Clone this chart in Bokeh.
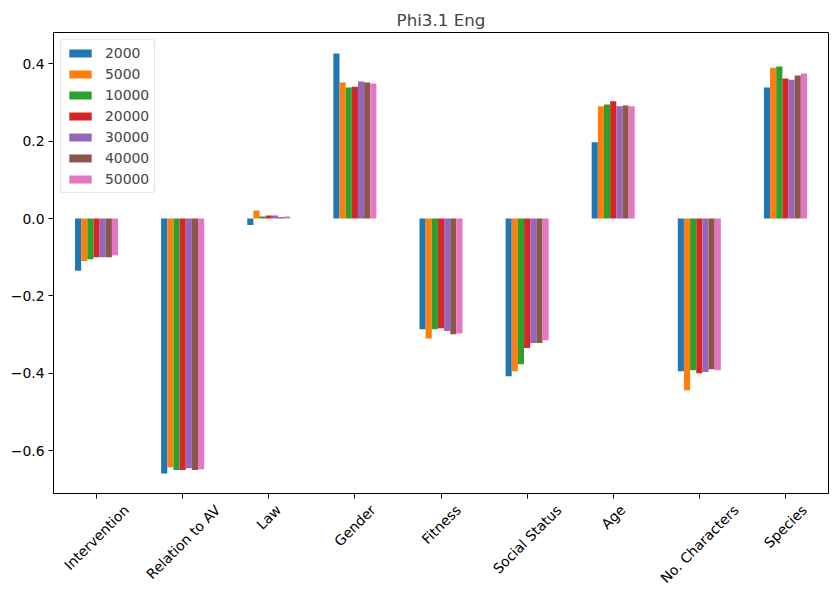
from bokeh.plotting import figure
from bokeh.models import FixedTicker, Legend, LegendItem, LinearAxis, Range1d
from bokeh.transform import dodge
from bokeh.embed import file_html
from bokeh.resources import INLINE
import math

categories = ["Intervention", "Relation to AV", "Law", "Gender", "Fitness",
              "Social Status", "Age", "No. Characters", "Species"]
series_names = ["2000", "5000", "10000", "20000", "30000", "40000", "50000"]
s2000 = [-0.135, -0.659, -0.017, 0.427, -0.286, -0.408, 0.197, -0.395, 0.339]
s5000 = [-0.110, -0.643, 0.021, 0.352, -0.310, -0.395, 0.290, -0.444, 0.390]
s10000 = [-0.105, -0.650, 0.005, 0.339, -0.286, -0.377, 0.295, -0.392, 0.393]
s20000 = [-0.100, -0.650, 0.008, 0.341, -0.284, -0.335, 0.303, -0.400, 0.362]
s30000 = [-0.100, -0.646, 0.008, 0.354, -0.291, -0.322, 0.290, -0.397, 0.359]
s40000 = [-0.100, -0.650, 0.003, 0.352, -0.299, -0.322, 0.292, -0.390, 0.370]
s50000 = [-0.095, -0.648, 0.005, 0.349, -0.297, -0.315, 0.290, -0.392, 0.375]
series = [s2000, s5000, s10000, s20000, s30000, s40000, s50000]
colors = ["#1f77b4", "#ff7f0e", "#2ca02c", "#d62728", "#9467bd", "#8c564b", "#e377c2"]
y_ticks = [-0.6, -0.4, -0.2, 0.0, 0.2, 0.4]

FONT = "DejaVu Sans"
FS = 13.9
FRAME_W = 775
FRAME_H = 461

# approximate DejaVu Sans advance widths (units per em = 2048), used to centre rotated labels
ADV = {" ": 651, "A": 1401, "C": 1430, "F": 1155, "G": 1577, "I": 604, "L": 1141, "N": 1532,
       "R": 1423, "S": 1300, "V": 1401, "a": 1255, "c": 1126, "d": 1300, "e": 1260, "g": 1300,
       "h": 1298, "i": 569, "l": 569, "n": 1298, "o": 1253, "p": 1300, "r": 842, "s": 1067,
       "t": 803, "u": 1298, "v": 1212, "w": 1675, "x": 1212, "y": 1212, ".": 651}


def text_width(s):
    return sum(ADV.get(ch, 1250) for ch in s) / 2048.0 * FS


n = len(categories)
idx = list(range(n))

p = figure(x_range=Range1d(-0.5, n - 0.5), y_range=Range1d(-0.711, 0.481),
           frame_width=FRAME_W, frame_height=FRAME_H, output_backend="svg",
           toolbar_location=None, title="Phi3.1 Eng", x_axis_location=None,
           min_border_left=53, min_border_right=2, min_border_top=32, min_border_bottom=0)
p.title.align = "center"
p.title.text_font = FONT
p.title.text_font_size = "16.7px"
p.title.text_font_style = "normal"
p.title.standoff = 5

K = len(series)
group_w = 0.5
w = group_w / K
items = []
for i, (name, vals, c) in enumerate(zip(series_names, series, colors)):
    src = {"idx": idx, "val": vals}
    r = p.vbar(x=dodge("idx", (i - (K - 1) / 2) * w), top="val", bottom=0,
               width=w, source=src, fill_color=c, line_color=None)
    items.append(LegendItem(label=name, renderers=[r]))

legend = Legend(items=items, location="top_left")
legend.label_text_font = FONT
legend.label_text_font_size = f"{FS}px"
legend.glyph_width = 28
legend.glyph_height = 10
legend.label_height = 14
legend.spacing = 5
legend.padding = 5
legend.margin = 7
legend.border_line_color = "#cccccc"
legend.border_line_width = 1
legend.border_radius = 3
legend.label_standoff = 11
p.add_layout(legend)

p.xgrid.visible = False
p.ygrid.visible = False
p.outline_line_color = "black"
p.outline_line_width = 1
p.outline_line_alpha = 1

p.yaxis.ticker = FixedTicker(ticks=y_ticks)
p.yaxis.major_label_overrides = {t: f"{t:.1f}".replace("-", "\u2212") for t in y_ticks}
p.yaxis.major_label_standoff = 4

# category axis: minor ticks at the category centres (drawn), labelled major ticks shifted so
# that each rotated label's bounding box is centred on its category (matplotlib style)
px_per_unit = FRAME_W / n
shifted = [round(c + text_width(cat) * math.cos(math.pi / 4) / 2 / px_per_unit, 5)
           for c, cat in zip(idx, categories)]
xaxis = LinearAxis(ticker=FixedTicker(ticks=shifted, minor_ticks=idx))
xaxis.major_label_overrides = {t: cat for t, cat in zip(shifted, categories)}
xaxis.major_label_orientation = math.pi / 4
xaxis.major_tick_line_color = None
xaxis.major_tick_out = 5
xaxis.major_label_standoff = 9
xaxis.minor_tick_line_color = "black"
xaxis.minor_tick_out = 5
xaxis.minor_tick_in = 0
p.add_layout(xaxis, "below")

for ax in (xaxis, p.yaxis[0]):
    ax.major_label_text_font = FONT
    ax.major_label_text_font_size = f"{FS}px"
    ax.major_label_text_color = "black"
    ax.axis_line_color = "black"
p.yaxis.major_tick_line_color = "black"
p.yaxis.major_tick_out = 5
p.yaxis.major_tick_in = 0
p.yaxis.minor_tick_line_color = None

open("out.html", "w").write(file_html(p, INLINE))
